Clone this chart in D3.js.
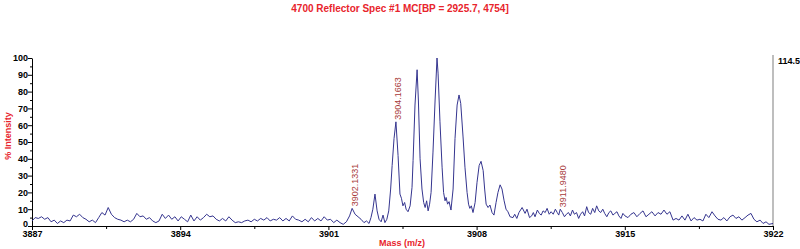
<!DOCTYPE html>
<html>
<head>
<meta charset="utf-8">
<script src="https://cdn.jsdelivr.net/npm/d3@7"></script>
<style>
  body { margin: 0; background: #fff; }
  text { font-family: "Liberation Sans", Arial, sans-serif; }
</style>
</head>
<body>
<div id="chart"></div>
<script>
// data: [mass, % intensity]
var noiseLeft = [
  [3887.00, 3], [3887.15, 5], [3887.30, 4.5], [3887.45, 5.5], [3887.60, 4], [3887.75, 5],
  [3887.90, 2.5], [3888.05, 3.5], [3888.20, 1.5], [3888.35, 3], [3888.50, 2], [3888.65, 3.5],
  [3888.80, 3], [3888.95, 6.5], [3889.10, 5.5], [3889.25, 7], [3889.40, 5], [3889.55, 4],
  [3889.70, 2.5], [3889.85, 3.5], [3890.00, 2], [3890.15, 5], [3890.30, 8], [3890.45, 6.5],
  [3890.60, 11], [3890.75, 7], [3890.90, 5], [3891.05, 4], [3891.20, 3.5], [3891.35, 2.5],
  [3891.50, 3.5], [3891.65, 2.5], [3891.80, 4], [3891.95, 7.5], [3892.10, 5.5], [3892.25, 6],
  [3892.40, 4], [3892.55, 5], [3892.70, 3], [3892.85, 2], [3893.00, 3], [3893.15, 7],
  [3893.30, 4.5], [3893.45, 6.5], [3893.60, 4], [3893.75, 5.5], [3893.90, 3], [3894.05, 5.5],
  [3894.20, 4], [3894.35, 2.5], [3894.50, 6.5], [3894.65, 3], [3894.80, 5.5], [3894.95, 3.5],
  [3895.10, 5], [3895.25, 7], [3895.40, 5.5], [3895.55, 6], [3895.70, 4], [3895.85, 3],
  [3896.00, 4.5], [3896.15, 3], [3896.30, 5.5], [3896.45, 3.5], [3896.60, 2], [3896.75, 2.5],
  [3896.90, 2], [3897.05, 3], [3897.20, 3.5], [3897.35, 2.5], [3897.50, 4], [3897.65, 3],
  [3897.80, 4.5], [3897.95, 3.5], [3898.10, 5], [3898.25, 3], [3898.40, 4], [3898.55, 3.5],
  [3898.70, 5], [3898.85, 3], [3899.00, 4.5], [3899.15, 3], [3899.30, 6], [3899.45, 4],
  [3899.60, 3.5], [3899.75, 2.5], [3899.90, 4], [3900.05, 2.5], [3900.20, 5], [3900.35, 3],
  [3900.50, 4.5], [3900.65, 3], [3900.80, 5.5], [3900.95, 3.5], [3901.10, 4], [3901.25, 2],
  [3901.40, 3.5]
];

var peakRegion = [
  [3901.55, 2], [3901.70, 1], [3901.85, 2.5], [3902.00, 6], [3902.12, 10.5], [3902.26, 7],
  [3902.40, 5.5], [3902.54, 4], [3902.68, 2], [3902.80, 3], [3902.92, 1.5], [3903.01, 5],
  [3903.10, 10], [3903.20, 19], [3903.30, 9], [3903.39, 4], [3903.49, 2.5], [3903.58, 6.5],
  [3903.67, 2], [3903.76, 4], [3903.85, 9], [3903.94, 22], [3904.01, 36], [3904.10, 52],
  [3904.19, 62], [3904.29, 42], [3904.38, 19], [3904.45, 16.5], [3904.52, 12], [3904.60, 14],
  [3904.67, 10], [3904.76, 8.5], [3904.86, 12], [3904.95, 23], [3905.00, 39], [3905.09, 72],
  [3905.19, 93], [3905.25, 75], [3905.33, 40], [3905.42, 22], [3905.50, 14], [3905.57, 11],
  [3905.64, 15], [3905.71, 9], [3905.78, 13], [3905.85, 20], [3905.94, 44], [3906.04, 75],
  [3906.13, 100], [3906.18, 91], [3906.27, 62], [3906.37, 35], [3906.44, 20], [3906.51, 15],
  [3906.56, 17], [3906.63, 13], [3906.70, 14.5], [3906.79, 9.5], [3906.89, 22], [3906.98, 52],
  [3907.08, 72], [3907.17, 78], [3907.25, 73], [3907.36, 53], [3907.45, 35], [3907.55, 20],
  [3907.62, 13], [3907.68, 10.5], [3907.75, 12], [3907.83, 8], [3907.93, 14], [3908.02, 26],
  [3908.12, 36], [3908.21, 38.5], [3908.31, 33], [3908.38, 22], [3908.45, 13], [3908.54, 11],
  [3908.63, 12.5], [3908.73, 8], [3908.82, 6.5], [3908.92, 14], [3909.01, 20], [3909.11, 24.5],
  [3909.20, 22], [3909.30, 15], [3909.39, 10], [3909.48, 8.5], [3909.58, 5.5], [3909.72, 5],
  [3909.80, 7], [3909.90, 4.5], [3910.00, 8], [3910.15, 11], [3910.29, 7.5], [3910.38, 10],
  [3910.50, 5]
];

var noiseRight = [
  [3910.60, 6], [3910.68, 8], [3910.76, 5.5], [3910.87, 9.5], [3910.96, 7.5], [3911.05, 6.5],
  [3911.14, 9], [3911.24, 8], [3911.33, 10.5], [3911.43, 7], [3911.52, 8.5], [3911.62, 7],
  [3911.72, 10], [3911.81, 8], [3911.88, 6.5], [3911.95, 10], [3912.05, 8], [3912.15, 5.5],
  [3912.24, 7], [3912.34, 8], [3912.43, 6], [3912.53, 9.5], [3912.62, 7], [3912.72, 8],
  [3912.82, 4.5], [3912.91, 7], [3913.01, 8.5], [3913.10, 6], [3913.20, 11.5], [3913.29, 8],
  [3913.39, 7], [3913.48, 10.5], [3913.58, 8], [3913.67, 12], [3913.77, 9], [3913.86, 8],
  [3913.96, 10], [3914.05, 7.5], [3914.15, 5.5], [3914.25, 8], [3914.34, 9], [3914.44, 6.5],
  [3914.53, 7.5], [3914.63, 8.5], [3914.72, 6], [3914.82, 4.5], [3914.91, 7.5], [3915.01, 6],
  [3915.15, 5], [3915.29, 7], [3915.43, 8], [3915.57, 5.5], [3915.72, 7.5], [3915.86, 9],
  [3916.00, 5.5], [3916.14, 7], [3916.28, 8.5], [3916.43, 6], [3916.57, 8], [3916.71, 7],
  [3916.85, 9.5], [3916.99, 7], [3917.13, 8.5], [3917.28, 3.5], [3917.42, 4.5], [3917.56, 3.5],
  [3917.70, 6], [3917.84, 3.5], [3917.98, 7], [3918.13, 3], [3918.27, 5], [3918.41, 3.5],
  [3918.55, 4], [3918.69, 3], [3918.83, 7], [3918.97, 5], [3919.12, 8.5], [3919.26, 6],
  [3919.40, 4], [3919.54, 3.5], [3919.68, 5], [3919.82, 3], [3919.97, 5.5], [3920.11, 6.5],
  [3920.25, 4.5], [3920.39, 5.5], [3920.53, 3.5], [3920.68, 5], [3920.82, 6.5], [3920.96, 7.5],
  [3921.10, 4], [3921.24, 2.5], [3921.39, 3.5], [3921.53, 1.5], [3921.67, 2.5], [3921.81, 1],
  [3922.00, 1.5]
];

// labelled peaks
var peakMasses = [3902.1331, 3904.1663, 3911.9480];
var peakLabels = ["3902.1331", "3904.1663", "3911.9480"];
var peakHeights = [10.5, 62, 10];

// axis ticks
var xTicks = [3887, 3894, 3901, 3908, 3915, 3922];
var xMinorTicks = [3890.5, 3897.5, 3904.5, 3911.5, 3918.5];
var yTicks = [0, 10, 20, 30, 40, 50, 60, 70, 80, 90, 100];
var yMinorTicks = [5, 15, 25, 35, 45, 55, 65, 75, 85, 95];

var titleText = "4700 Reflector Spec #1 MC[BP = 2925.7, 4754]";
var rightMax = "114.5";

var spectrum = noiseLeft.concat(peakRegion, noiseRight);

// chart setup
var svgWidth = 800;
var svgHeight = 249;
var margin = { top: 58, right: 27, bottom: 23, left: 32 };
var width = svgWidth - margin.left - margin.right;
var height = svgHeight - margin.top - margin.bottom;

var svg = d3.select("#chart")
  .append("svg")
  .attr("width", svgWidth)
  .attr("height", svgHeight);

var chartGroup = svg.append("g")
  .attr("transform", `translate(${margin.left}, ${margin.top})`);

var xScale = d3.scaleLinear().domain([3887, 3922]).range([0, width]);
var yScale = d3.scaleLinear().domain([0, 100]).range([height, 0]);

// right border / absolute scale
chartGroup.append("line")
  .attr("x1", width).attr("x2", width)
  .attr("y1", -3).attr("y2", height)
  .attr("stroke", "#a8a8a8")
  .attr("stroke-width", 1.5);

// axes
var bottomAxis = d3.axisBottom(xScale).tickValues(xTicks).tickSize(4).tickSizeOuter(0).tickFormat(d3.format("d"));
var bottomMinor = d3.axisBottom(xScale).tickValues(xMinorTicks).tickSize(3).tickFormat("");
var leftAxis = d3.axisLeft(yScale).tickValues(yTicks).tickSize(4).tickSizeOuter(0).tickFormat(d3.format("d"));
var leftMinor = d3.axisLeft(yScale).tickValues(yMinorTicks).tickSize(2).tickFormat("");

var xg = chartGroup.append("g").attr("transform", `translate(0, ${height})`).call(bottomAxis);
chartGroup.append("g").attr("transform", `translate(0, ${height})`).call(bottomMinor)
  .select(".domain").remove();
var yg = chartGroup.append("g").call(leftAxis);
chartGroup.append("g").call(leftMinor).select(".domain").remove();

xg.selectAll("text")
  .attr("dy", "0.55em")
  .attr("y", 6)
  .style("font-size", "9px")
  .style("font-weight", "bold")
  .attr("fill", "#000");
yg.selectAll("text")
  .attr("x", -4)
  .style("font-size", "9px")
  .style("font-weight", "bold")
  .attr("fill", "#000");
// lift the zero label a touch so it clears the first mass label
yg.selectAll(".tick text").filter(d => d === 0).attr("dy", "0.1em");
chartGroup.selectAll(".domain, .tick line").attr("stroke", "#000");

// spectrum trace
var line = d3.line()
  .x(d => xScale(d[0]))
  .y(d => yScale(d[1]));

chartGroup.append("path")
  .datum(spectrum)
  .attr("d", line)
  .attr("fill", "none")
  .attr("stroke", "#35358f")
  .attr("stroke-width", 1);

// peak annotations
peakMasses.forEach(function(m, i) {
  var px = xScale(m) + 6;
  var py = yScale(peakHeights[i]) - 2;
  chartGroup.append("text")
    .attr("transform", `translate(${px}, ${py}) rotate(-90)`)
    .attr("text-anchor", "start")
    .style("font-size", "9px")
    .attr("fill", "#a83a3a")
    .text(peakLabels[i]);
});

// right max label
chartGroup.append("text")
  .attr("x", width + 5)
  .attr("y", 6)
  .style("font-size", "9px")
  .style("font-weight", "bold")
  .attr("fill", "#000")
  .text(rightMax);

// title and axis labels
svg.append("text")
  .attr("x", 400)
  .attr("y", 12)
  .attr("text-anchor", "middle")
  .style("font-size", "10px")
  .style("font-weight", "bold")
  .attr("fill", "#e8242c")
  .text(titleText);

svg.append("text")
  .attr("x", 402)
  .attr("y", 246)
  .attr("text-anchor", "middle")
  .style("font-size", "9px")
  .style("font-weight", "bold")
  .attr("fill", "#e8242c")
  .text("Mass (m/z)");

svg.append("text")
  .attr("transform", "translate(11, 136) rotate(-90)")
  .attr("text-anchor", "middle")
  .style("font-size", "9px")
  .style("font-weight", "bold")
  .attr("fill", "#e8242c")
  .text("% Intensity");
</script>
</body>
</html>
